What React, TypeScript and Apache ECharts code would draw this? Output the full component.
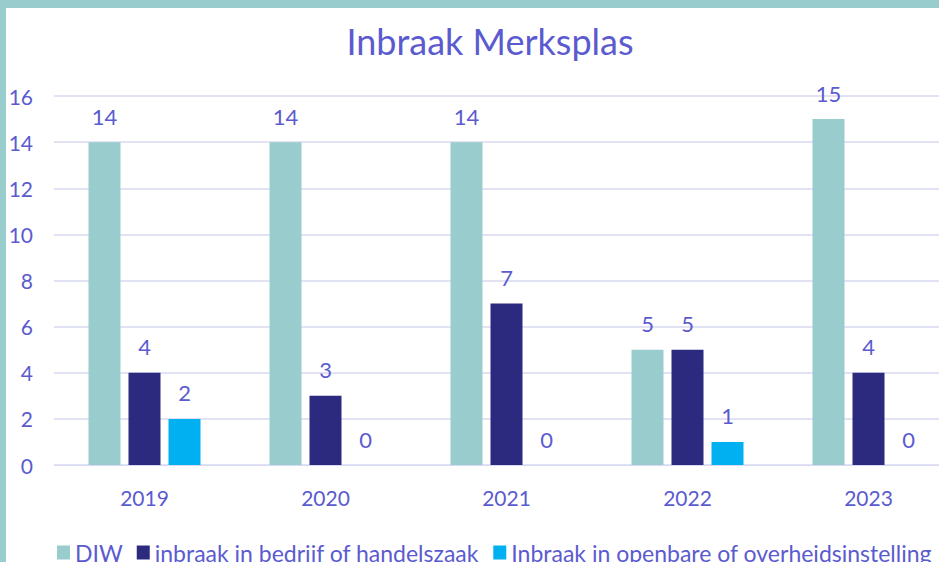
import React, { useEffect, useRef } from "react";
import * as echarts from "echarts";

const years = ["2019", "2020", "2021", "2022", "2023"];
const diw = [14, 14, 14, 5, 15];
const bedrijf = [4, 3, 7, 5, 4];
const openbaar = [2, 0, 0, 1, 0];
const seriesNames = [
  "DIW",
  "inbraak in bedrijf of handelszaak",
  "Inbraak in openbare of overheidsinstelling",
];

const TXT = "#5B5BCF";
const FONT = "Lato";

export default function App() {
  const ref = useRef<HTMLDivElement>(null);
  useEffect(() => {
    document.body.style.margin = "0";
    const chart = echarts.init(ref.current!, null, { renderer: "svg" });
    const label = {
      show: true,
      position: "top" as const,
      distance: 15,
      color: TXT,
      fontSize: 22,
      fontFamily: FONT,
    };
    chart.setOption({
      animation: false,
      backgroundColor: "#ffffff",
      title: {
        text: "Inbraak Merksplas",
        left: 485,
        textAlign: "center",
        top: 18,
        textStyle: { color: TXT, fontSize: 36, fontWeight: "normal", fontFamily: FONT },
      },
      legend: {
        left: 52,
        top: 536,
        itemWidth: 13,
        itemHeight: 14,
        itemGap: 14,
        icon: "rect",
        textStyle: { color: TXT, fontSize: 23, fontFamily: FONT },
        data: seriesNames,
      },
      grid: { left: 54, right: 0, top: 96, bottom: 97 },
      xAxis: {
        type: "category",
        data: years,
        axisLine: { lineStyle: { color: "#D9D9F2" } },
        axisTick: { show: false },
        axisLabel: { color: TXT, fontSize: 21, fontFamily: FONT, margin: 22 },
      },
      yAxis: {
        type: "value",
        min: 0,
        max: 16,
        interval: 2,
        axisLine: { show: false },
        axisTick: { show: false },
        splitLine: { lineStyle: { color: "#D9D9F2", width: 1.5 } },
        axisLabel: { color: TXT, fontSize: 21, fontFamily: FONT, margin: 21 },
      },
      series: [
        { name: seriesNames[0], type: "bar", data: diw, itemStyle: { color: "#99CCCC" }, barWidth: 32, barGap: "25%", barCategoryGap: "38%", label },
        { name: seriesNames[1], type: "bar", data: bedrijf, itemStyle: { color: "#2B2A7F" }, barWidth: 32, label },
        { name: seriesNames[2], type: "bar", data: openbaar, itemStyle: { color: "#00B0F0" }, barWidth: 32, label },
      ],
      graphic: [
        { type: "rect", left: 0, top: 0, shape: { width: 960, height: 8 }, style: { fill: "#99CCCC" }, z: 100 },
        { type: "rect", left: 0, top: 0, shape: { width: 6, height: 562 }, style: { fill: "#99CCCC" }, z: 100 },
      ],
    });
    return () => chart.dispose();
  }, []);
  return (
    <div style={{ width: 939, height: 562, overflow: "hidden", position: "relative" }}>
      <div ref={ref} style={{ width: 959, height: 562 }} />
    </div>
  );
}
